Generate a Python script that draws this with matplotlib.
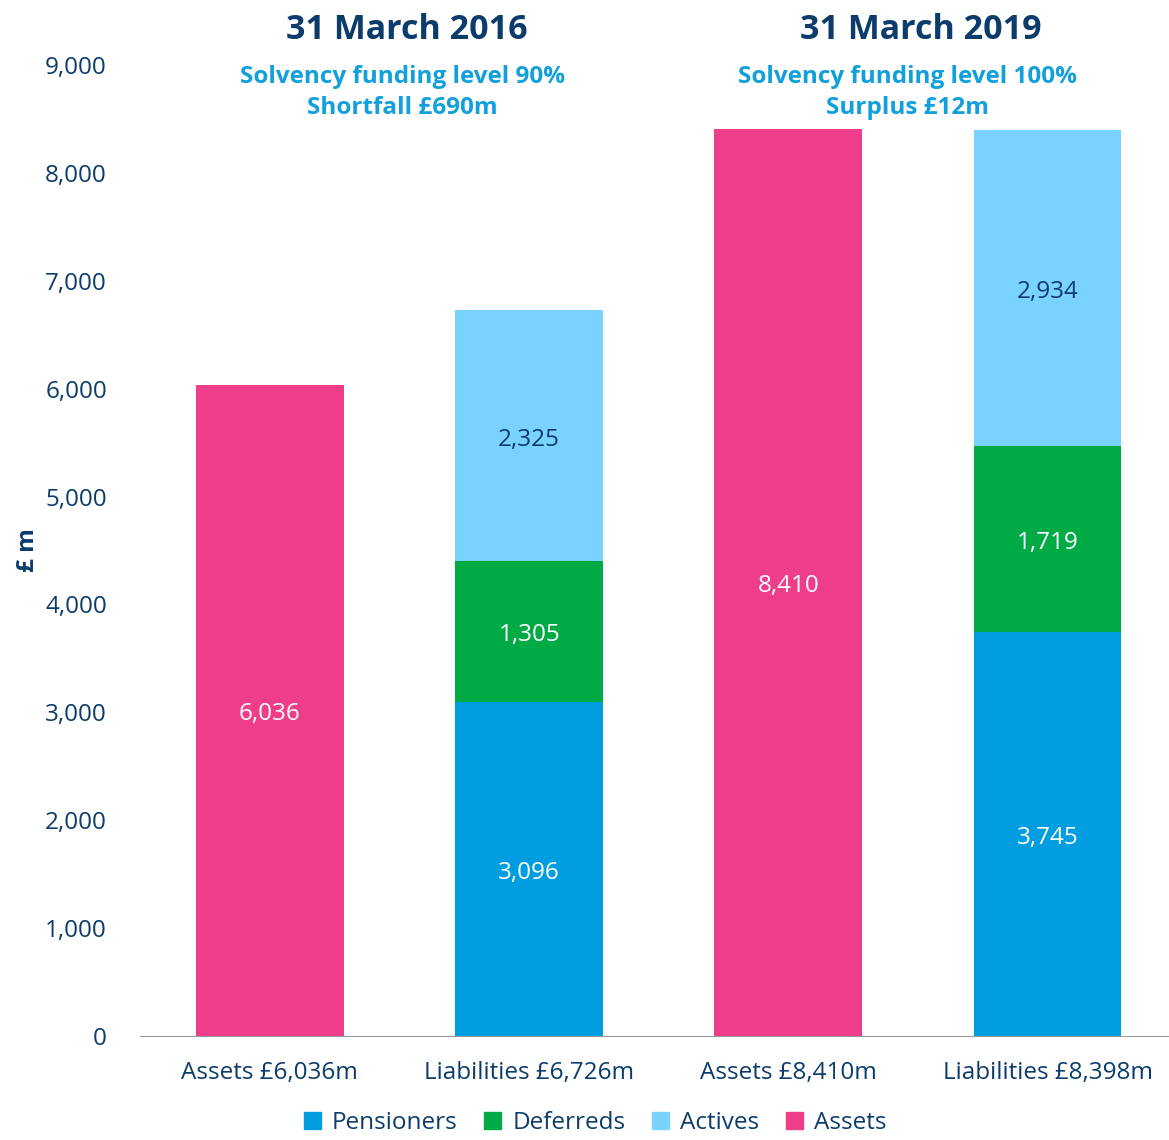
import matplotlib
matplotlib.use('Agg')
import matplotlib.pyplot as plt
from matplotlib.patches import Patch
import numpy as np

plt.rcParams['font.family'] = ['Open Sans', 'DejaVu Sans']

categories = ['Assets £6,036m', 'Liabilities £6,726m', 'Assets £8,410m', 'Liabilities £8,398m']
assets = [6036, 0, 8410, 0]
pensioners = [0, 3096, 0, 3745]
deferreds = [0, 1305, 0, 1719]
actives = [0, 2325, 0, 2934]

titles = ['31 March 2016', '31 March 2019']
subtitles = ['Solvency funding level 90%\nShortfall £690m', 'Solvency funding level 100%\nSurplus £12m']

navy = '#0B3C6B'
c_pen = '#009EE0'
c_def = '#00AA45'
c_act = '#79D2FF'
c_ass = '#EE3D8B'
sub_col = '#11A0DC'

fig = plt.figure(figsize=(11.69, 11.40), dpi=100)
ax = fig.add_axes([0.12, 0.0912, 0.887, 0.8518])

x = np.arange(len(categories))
w = 0.57
fs = 17.5

ax.bar(x, assets, w, color=c_ass)
ax.bar(x, pensioners, w, color=c_pen)
ax.bar(x, deferreds, w, bottom=pensioners, color=c_def)
b2 = np.array(pensioners) + np.array(deferreds)
ax.bar(x, actives, w, bottom=b2, color=c_act)

# segment labels (slight nudge down, Open Sans sits high)
dy = -35
for i in range(len(x)):
    if assets[i]:
        ax.text(x[i], assets[i] / 2 + dy, f'{assets[i]:,}', ha='center', va='center', color='white', fontsize=fs)
    if pensioners[i]:
        ax.text(x[i], pensioners[i] / 2 + dy, f'{pensioners[i]:,}', ha='center', va='center', color='white', fontsize=fs)
        ax.text(x[i], pensioners[i] + deferreds[i] / 2 + dy, f'{deferreds[i]:,}', ha='center', va='center', color='white', fontsize=fs)
        ax.text(x[i], b2[i] + actives[i] / 2 + dy, f'{actives[i]:,}', ha='center', va='center', color=navy, fontsize=fs)

ax.set_xlim(-0.5, 3.5)
ax.set_ylim(0, 9000)
ax.set_yticks(range(0, 9001, 1000))
ax.set_yticklabels([f'{v:,}' for v in range(0, 9001, 1000)])
ax.set_xticks(x)
ax.set_xticklabels(categories)
ax.tick_params(axis='both', length=0, labelsize=fs, labelcolor=navy)
ax.tick_params(axis='y', pad=24)
ax.tick_params(axis='x', pad=18)
for s in ['top', 'right', 'left']:
    ax.spines[s].set_visible(False)
ax.spines['bottom'].set_color('#999999')
ax.set_ylabel('£ m', fontsize=fs, fontweight='bold', color=navy, labelpad=4)

title_x = [0.53, 2.51]
sub_x = [0.51, 2.46]
for j in range(2):
    ax.text(title_x[j], 9320, titles[j], ha='center', va='center', fontsize=24.5, fontweight='bold', color=navy)
    ax.text(sub_x[j], 8745, subtitles[j], ha='center', va='center', fontsize=fs, fontweight='bold',
            color=sub_col, linespacing=1.4)

handles = [Patch(color=c_pen), Patch(color=c_def), Patch(color=c_act), Patch(color=c_ass)]
fig.legend(handles, ['Pensioners', 'Deferreds', 'Actives', 'Assets'], loc='lower center',
           bbox_to_anchor=(0.509, -0.015), ncol=4, frameon=False, fontsize=fs,
           handlelength=0.7, handleheight=0.7, handletextpad=0.45, columnspacing=1.1,
           labelcolor=navy)

fig.savefig('out.png', dpi=100)
